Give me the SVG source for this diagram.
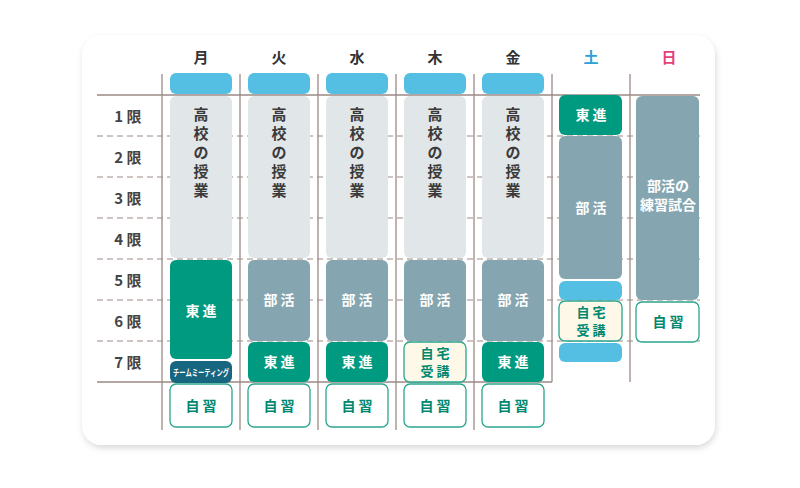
<svg xmlns="http://www.w3.org/2000/svg" width="800" height="488" viewBox="0 0 800 488">
<style>
text{font-family:"Noto Sans CJK JP","Noto Sans",sans-serif;font-weight:700;text-anchor:middle}
.hd{font-size:15px;fill:#333}
.rl{font-size:15px;fill:#444}
.gr{fill:#e1e6e9}
.bl{fill:#55bfe3}
.tg{fill:#009a80}
.bk{fill:#85a6b1}
.cr{fill:#fdf8e8;stroke:#2aa58d;stroke-width:1.3}
.wh{fill:#fff;stroke:#2aa58d;stroke-width:1.3}
.gt{font-size:15px;fill:#3a3a3a}
.wt{font-size:14px;fill:#fff}
.tt{font-size:14px;fill:#00876f}
.t2{font-size:13px;fill:#00876f}
.dash{stroke:#9b8a85;stroke-width:1;stroke-dasharray:6 4}
.sol{stroke:#9b8a85;stroke-width:1.3}
</style>
<defs>
<filter id="sh" x="-5%" y="-5%" width="110%" height="115%"><feDropShadow dx="1" dy="3" stdDeviation="3" flood-color="#000" flood-opacity="0.15"/></filter>
</defs>
<rect width="800" height="488" fill="#fff"/>
<rect x="82" y="35" width="633" height="410" rx="20" fill="#fff" filter="url(#sh)"/>
<g id="grid">
<line class="sol" x1="97" y1="95" x2="700" y2="95"/>
<line class="dash" x1="97" y1="136" x2="700" y2="136"/>
<line class="dash" x1="97" y1="177" x2="700" y2="177"/>
<line class="dash" x1="97" y1="218" x2="700" y2="218"/>
<line class="dash" x1="97" y1="259" x2="700" y2="259"/>
<line class="dash" x1="97" y1="300" x2="700" y2="300"/>
<line class="dash" x1="97" y1="341" x2="700" y2="341"/>
<line class="sol" x1="97" y1="382" x2="552" y2="382"/>
<line class="sol" x1="162" y1="74" x2="162" y2="430"/>
<line class="sol" x1="240" y1="74" x2="240" y2="430"/>
<line class="sol" x1="318" y1="74" x2="318" y2="430"/>
<line class="sol" x1="396" y1="74" x2="396" y2="430"/>
<line class="sol" x1="474" y1="74" x2="474" y2="430"/>
<line class="sol" x1="552" y1="74" x2="552" y2="382"/>
<line class="sol" x1="630" y1="74" x2="630" y2="382"/>
</g>
<g id="headers">
<text class="hd" x="201" y="63">月</text>
<text class="hd" x="279" y="63">火</text>
<text class="hd" x="357" y="63">水</text>
<text class="hd" x="435" y="63">木</text>
<text class="hd" x="513" y="63">金</text>
<text class="hd" x="591" y="63" style="fill:#2a9fd8">土</text>
<text class="hd" x="669" y="63" style="fill:#e5407a">日</text>
<text class="rl" x="128" y="122">1 限</text>
<text class="rl" x="128" y="163">2 限</text>
<text class="rl" x="128" y="204">3 限</text>
<text class="rl" x="128" y="245">4 限</text>
<text class="rl" x="128" y="286">5 限</text>
<text class="rl" x="128" y="327">6 限</text>
<text class="rl" x="128" y="368">7 限</text>
</g>
<g id="mon">
<rect class="bl" x="170" y="73" width="62" height="21" rx="6"/>
<rect class="gr" x="170" y="96" width="62" height="162" rx="6"/>
<text class="gt" x="201" y="120">高</text><text class="gt" x="201" y="139">校</text><text class="gt" x="201" y="158">の</text><text class="gt" x="201" y="177">授</text><text class="gt" x="201" y="196">業</text>
<rect class="tg" x="170" y="260" width="62" height="99" rx="6"/>
<text class="wt" x="201" y="316">東 進</text>
<rect x="170" y="361" width="62" height="22" rx="6" fill="#16667f"/>
<text x="201" y="376" textLength="56" lengthAdjust="spacingAndGlyphs" style="font-size:9px;fill:#fff">チームミーティング</text>
<rect class="wh" x="170" y="384" width="62" height="43" rx="6"/>
<text class="tt" x="201" y="411">自 習</text>
</g>
<g id="tue">
<rect class="bl" x="248" y="73" width="62" height="21" rx="6"/>
<rect class="gr" x="248" y="96" width="62" height="162" rx="6"/>
<text class="gt" x="279" y="120">高</text><text class="gt" x="279" y="139">校</text><text class="gt" x="279" y="158">の</text><text class="gt" x="279" y="177">授</text><text class="gt" x="279" y="196">業</text>
<rect class="bk" x="248" y="260" width="62" height="81" rx="6"/>
<text class="wt" x="279" y="305">部 活</text>
<rect class="tg" x="248" y="342" width="62" height="40" rx="6"/>
<text class="wt" x="279" y="367">東 進</text>
<rect class="wh" x="248" y="384" width="62" height="43" rx="6"/>
<text class="tt" x="279" y="411">自 習</text>
</g>
<g id="wed">
<rect class="bl" x="326" y="73" width="62" height="21" rx="6"/>
<rect class="gr" x="326" y="96" width="62" height="162" rx="6"/>
<text class="gt" x="357" y="120">高</text><text class="gt" x="357" y="139">校</text><text class="gt" x="357" y="158">の</text><text class="gt" x="357" y="177">授</text><text class="gt" x="357" y="196">業</text>
<rect class="bk" x="326" y="260" width="62" height="81" rx="6"/>
<text class="wt" x="357" y="305">部 活</text>
<rect class="tg" x="326" y="342" width="62" height="40" rx="6"/>
<text class="wt" x="357" y="367">東 進</text>
<rect class="wh" x="326" y="384" width="62" height="43" rx="6"/>
<text class="tt" x="357" y="411">自 習</text>
</g>
<g id="thu">
<rect class="bl" x="404" y="73" width="62" height="21" rx="6"/>
<rect class="gr" x="404" y="96" width="62" height="162" rx="6"/>
<text class="gt" x="435" y="120">高</text><text class="gt" x="435" y="139">校</text><text class="gt" x="435" y="158">の</text><text class="gt" x="435" y="177">授</text><text class="gt" x="435" y="196">業</text>
<rect class="bk" x="404" y="260" width="62" height="81" rx="6"/>
<text class="wt" x="435" y="305">部 活</text>
<rect class="cr" x="404" y="342" width="62" height="40" rx="6"/>
<text class="t2" x="435" y="358">自 宅</text>
<text class="t2" x="435" y="376">受 講</text>
<rect class="wh" x="404" y="384" width="62" height="43" rx="6"/>
<text class="tt" x="435" y="411">自 習</text>
</g>
<g id="fri">
<rect class="bl" x="482" y="73" width="62" height="21" rx="6"/>
<rect class="gr" x="482" y="96" width="62" height="162" rx="6"/>
<text class="gt" x="513" y="120">高</text><text class="gt" x="513" y="139">校</text><text class="gt" x="513" y="158">の</text><text class="gt" x="513" y="177">授</text><text class="gt" x="513" y="196">業</text>
<rect class="bk" x="482" y="260" width="62" height="81" rx="6"/>
<text class="wt" x="513" y="305">部 活</text>
<rect class="tg" x="482" y="342" width="62" height="40" rx="6"/>
<text class="wt" x="513" y="367">東 進</text>
<rect class="wh" x="482" y="384" width="62" height="43" rx="6"/>
<text class="tt" x="513" y="411">自 習</text>
</g>
<g id="sat">
<rect class="tg" x="559" y="95" width="63" height="40" rx="6"/>
<text class="wt" x="591" y="120">東 進</text>
<rect class="bk" x="559" y="136" width="63" height="143" rx="6"/>
<text class="wt" x="591" y="213">部 活</text>
<rect class="bl" x="559" y="281" width="63" height="19" rx="6"/>
<rect class="cr" x="559" y="301" width="63" height="40" rx="6"/>
<text class="t2" x="591" y="317">自 宅</text>
<text class="t2" x="591" y="335">受 講</text>
<rect class="bl" x="559" y="343" width="63" height="19" rx="6"/>
</g>
<g id="sun">
<rect class="bk" x="636" y="96" width="63" height="204" rx="6"/>
<text class="wt" x="668" y="191">部活の</text>
<text class="wt" x="668" y="210">練習試合</text>
<rect class="wh" x="636" y="302" width="63" height="40" rx="6"/>
<text class="tt" x="668" y="327">自 習</text>
</g>
</svg>
